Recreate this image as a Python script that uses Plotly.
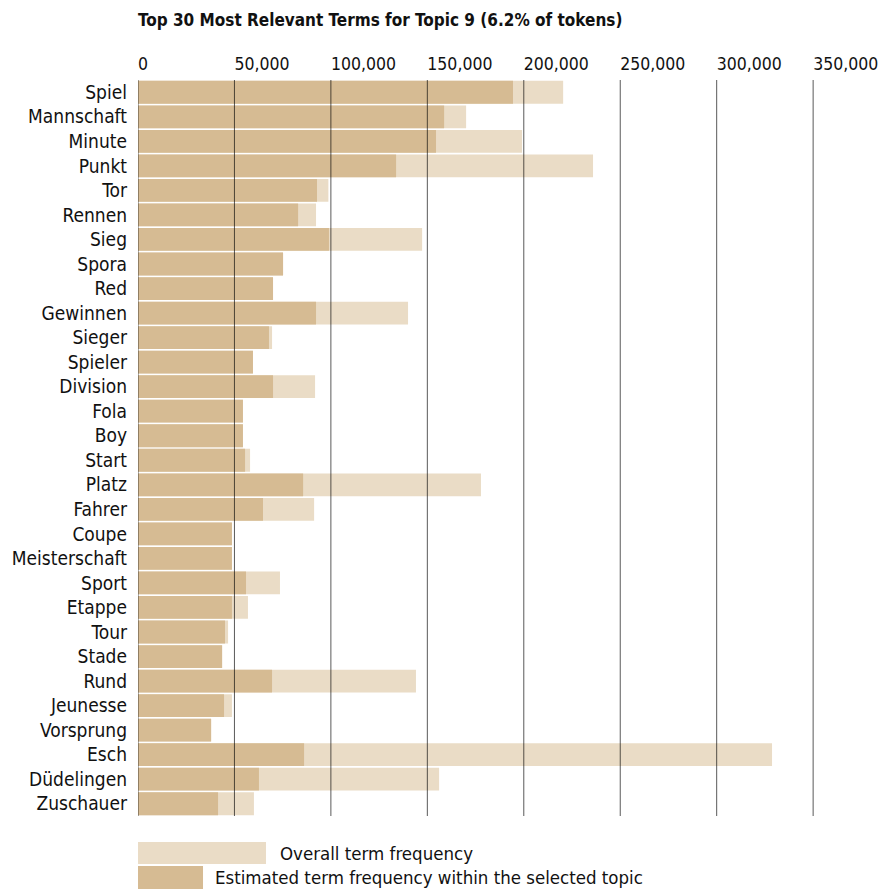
import plotly.graph_objects as go

terms = ["Spiel", "Mannschaft", "Minute", "Punkt", "Tor", "Rennen", "Sieg", "Spora", "Red",
         "Gewinnen", "Sieger", "Spieler", "Division", "Fola", "Boy", "Start", "Platz", "Fahrer",
         "Coupe", "Meisterschaft", "Sport", "Etappe", "Tour", "Stade", "Rund", "Jeunesse",
         "Vorsprung", "Esch", "Düdelingen", "Zuschauer"]

overall_freq = [220400, 170100, 199100, 235900, 98700, 92300, 147300, 75200, 70000,
                140000, 69500, 59600, 91800, 54400, 54400, 58100, 177800, 91300,
                48700, 48700, 73600, 57000, 46700, 43600, 144100, 48700,
                37900, 328700, 156100, 60100]

topic_freq = [194400, 158700, 154500, 133800, 92800, 83000, 99000, 75200, 70000,
              92300, 67900, 59600, 70000, 54400, 54400, 55500, 85600, 64800,
              48700, 48700, 56000, 48700, 45100, 43600, 69500, 44600,
              37900, 86100, 62700, 41500]

tick_vals = [0, 50000, 100000, 150000, 200000, 250000, 300000, 350000]
tick_text = ["0", "50,000", "100,000", "150,000", "200,000", "250,000", "300,000", "350,000"]

title_text = "Top 30 Most Relevant Terms for Topic 9 (6.2% of tokens)"
legend_overall = "Overall term frequency"
legend_topic = "Estimated term frequency within the selected topic"

LIGHT = "#EADCC6"
TAN = "#D6BB93"
FONT = "DejaVu Sans Condensed, Liberation Sans Narrow, Arial Narrow, sans-serif"

fig = go.Figure()
fig.add_trace(go.Bar(y=terms, x=overall_freq, orientation="h", marker=dict(color=LIGHT, line=dict(width=0)),
                     name=legend_overall, showlegend=False))
fig.add_trace(go.Bar(y=terms, x=topic_freq, orientation="h", marker=dict(color=TAN, line=dict(width=0)),
                     name=legend_topic, showlegend=False))

# gridlines drawn above bars
for v in tick_vals:
    fig.add_shape(type="line", xref="x", yref="paper", x0=v, x1=v, y0=0, y1=1,
                  line=dict(color="rgba(0,0,0,0.65)", width=1), layer="above")

# custom legend
fig.add_shape(type="rect", xref="paper", yref="paper", x0=0, x1=0.1746, y0=-0.0353, y1=-0.0652,
              fillcolor=LIGHT, line=dict(width=0))
fig.add_shape(type="rect", xref="paper", yref="paper", x0=0, x1=0.0887, y0=-0.0679, y1=-0.0992,
              fillcolor=TAN, line=dict(width=0))
fig.add_annotation(xref="paper", yref="paper", x=0.191, y=-0.0503, text=legend_overall, showarrow=False,
                   xanchor="left", yanchor="middle", font=dict(family=FONT, size=18.5, color="#111"))
fig.add_annotation(xref="paper", yref="paper", x=0.1023, y=-0.0842, text=legend_topic, showarrow=False,
                   xanchor="left", yanchor="middle", font=dict(family=FONT, size=18.5, color="#111"))

fig.update_layout(
    width=894, height=889,
    margin=dict(l=130, r=31, t=72, b=81),
    paper_bgcolor="white", plot_bgcolor="white",
    barmode="overlay", bargap=0.07,
    font=dict(family=FONT, color="#111"),
    title=dict(text="<b>" + title_text + "</b>", x=130 / 894, xanchor="left", y=1 - 12 / 889,
               yanchor="middle", font=dict(family=FONT, size=17, color="#111")),
    xaxis=dict(side="top", range=[0, 380000], tickvals=tick_vals, ticktext=tick_text,
               ticklabelposition="outside right", showgrid=False, zeroline=False, showline=False,
               ticks="", tickfont=dict(family=FONT, size=17.5, color="#111"), ticklabelstandoff=6,
               automargin=False),
    yaxis=dict(autorange="reversed", tickmode="array", tickvals=terms, ticktext=terms,
               showgrid=False, zeroline=False, showline=False, ticks="",
               tickfont=dict(family=FONT, size=19, color="#111"), ticklabelstandoff=10,
               automargin=False),
)

fig.write_html("out.html")
